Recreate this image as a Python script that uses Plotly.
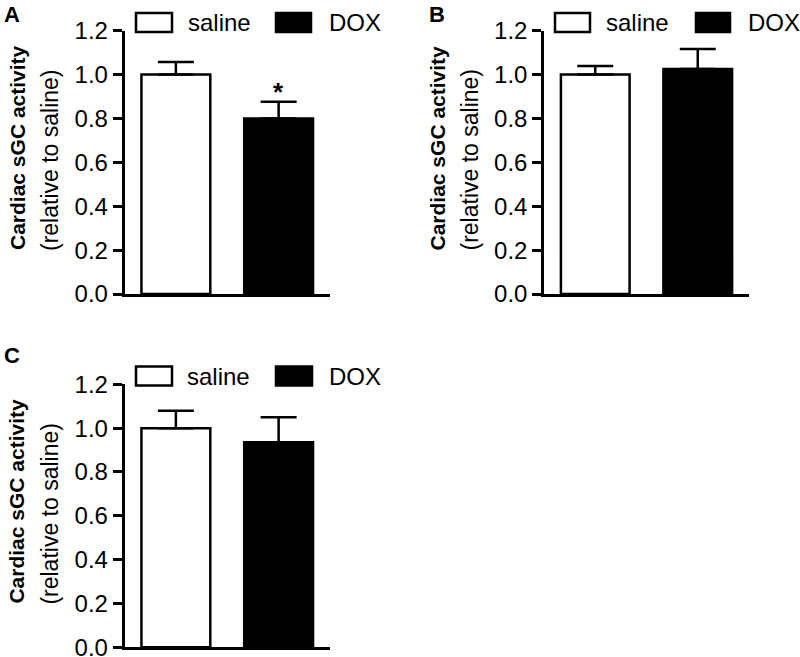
import plotly.graph_objects as go

W, H = 800, 657

groups = ["saline", "DOX"]
panel_names = ["A", "B", "C"]
means_A = [1.00, 0.80]
errs_A = [0.057, 0.076]
means_B = [1.00, 1.025]
errs_B = [0.039, 0.092]
means_C = [1.00, 0.936]
errs_C = [0.079, 0.114]
yticks = [0.0, 0.2, 0.4, 0.6, 0.8, 1.0, 1.2]
ytitle_bold = "Cardiac sGC activity"
ytitle_reg = "(relative to saline)"

FONT = "Liberation Sans, Arial, sans-serif"


def px(x):
    return x / W


def py(y):
    return 1 - y / H


# panel geometry in pixels: (x0, x1, ytop, ybottom)
geo = {
    "A": (124.5, 330, 30.7, 294),
    "B": (544, 749, 30.7, 294),
    "C": (124.5, 330, 384.3, 647.3),
}
letter_pos = {"A": (12, 0), "B": (437, 0), "C": (12, 341)}
legend_x = {"A": (136, 172, 186, 276, 311, 327), "B": (555, 590, 604, 696, 730, 746),
            "C": (136, 172, 185, 276, 312, 327)}
data = {"A": (means_A, errs_A), "B": (means_B, errs_B), "C": (means_C, errs_C)}

fig = go.Figure()
layout = dict(
    width=W, height=H, margin=dict(l=0, r=0, t=0, b=0, autoexpand=False),
    plot_bgcolor="white", paper_bgcolor="white", showlegend=False,
    font=dict(family=FONT, color="black", size=22),
)
shapes = []
annotations = []

for i, name in enumerate(panel_names):
    sfx = "" if i == 0 else str(i + 1)
    xa, ya = "x" + sfx, "y" + sfx
    x0, x1, yt, yb = geo[name]
    means, errs = data[name]
    fig.add_trace(go.Bar(
        x=groups, y=means, xaxis=xa, yaxis=ya, width=0.67,
        marker=dict(color=["white", "black"], line=dict(color="black", width=2.5)),
        error_y=dict(type="data", array=errs, arrayminus=[0, 0], symmetric=False,
                     color="black", thickness=2.5, width=18),
    ))
    layout["xaxis" + sfx] = dict(
        domain=[px(x0), px(x1)], anchor=ya, range=[-0.5, 1.5], automargin=False,
        showticklabels=False, ticks="", showgrid=False, zeroline=False,
        showline=True, linecolor="black", linewidth=2.5,
    )
    layout["yaxis" + sfx] = dict(
        domain=[py(yb), py(yt)], anchor=xa, range=[0, 1.2], automargin=False,
        tickvals=yticks, ticktext=[f"{v:.1f}" for v in yticks],
        ticks="outside", ticklen=9, tickwidth=2.5, tickcolor="black",
        ticklabeloverflow="allow",
        showgrid=False, zeroline=False, showline=True, linecolor="black",
        linewidth=2.5, tickfont=dict(size=24, family=FONT, color="black"),
    )
    dy = yt - 30.7
    dx = x0 - 124.5
    lpx, lpy = letter_pos[name]
    annotations.append(dict(text=f"<b>{name}</b>", x=px(lpx), y=py(lpy),
                            xref="paper", yref="paper",
                            showarrow=False, xanchor="center", yanchor="top",
                            font=dict(size=22, family=FONT, color="black")))
    # y titles
    annotations.append(dict(text=f"<b>{ytitle_bold}</b>", x=px(17 + dx), y=py(148 + dy),
                            xref="paper", yref="paper", textangle=-90, showarrow=False,
                            xanchor="center", yanchor="middle",
                            font=dict(size=21, family=FONT, color="black")))
    annotations.append(dict(text=ytitle_reg, x=px(50 + dx), y=py(160 + dy),
                            xref="paper", yref="paper", textangle=-90, showarrow=False,
                            xanchor="center", yanchor="middle",
                            font=dict(size=23, family=FONT, color="black")))
    # legend
    lx = legend_x[name]
    ly0, ly1 = 13 + dy, 32 + dy
    shapes.append(dict(type="rect", xref="paper", yref="paper", x0=px(lx[0]), x1=px(lx[1]),
                       y0=py(ly1), y1=py(ly0), line=dict(color="black", width=2.5),
                       fillcolor="white"))
    shapes.append(dict(type="rect", xref="paper", yref="paper", x0=px(lx[3]), x1=px(lx[4]),
                       y0=py(ly1), y1=py(ly0), line=dict(color="black", width=2.5),
                       fillcolor="black"))
    annotations.append(dict(text=groups[0], x=px(lx[2]), y=py(23 + dy), xref="paper",
                            yref="paper", showarrow=False, xanchor="left", yanchor="middle",
                            font=dict(size=24, family=FONT, color="black")))
    annotations.append(dict(text=groups[1], x=px(lx[5]), y=py(23 + dy), xref="paper",
                            yref="paper", showarrow=False, xanchor="left", yanchor="middle",
                            font=dict(size=24, family=FONT, color="black")))

# significance asterisk on panel A DOX
annotations.append(dict(text="<b>*</b>", x="DOX", y=means_A[1] + errs_A[1] + 0.045,
                        xref="x", yref="y", showarrow=False, xanchor="center",
                        yanchor="middle", font=dict(size=26, family=FONT, color="black")))

layout["shapes"] = shapes
layout["annotations"] = annotations
fig.update_layout(**layout)
fig.write_html("out.html", config={"displayModeBar": False},
               post_script="document.body.style.margin='0px';document.body.style.overflow='hidden';")
